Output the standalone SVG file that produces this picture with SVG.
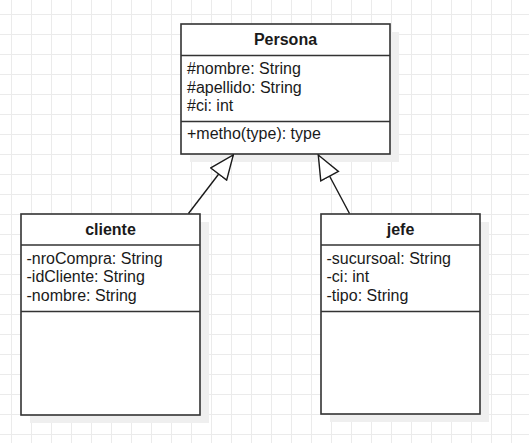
<svg xmlns="http://www.w3.org/2000/svg" width="529" height="443" viewBox="0 0 529 443">
  <style>
    .box { fill: #ffffff; stroke: #333333; stroke-width: 1.6; }
    .shadow { fill: #efefef; stroke: none; }
    .sep { stroke: #333333; stroke-width: 1.6; }
    .title { font-family: "Liberation Sans", Arial, sans-serif; font-size: 16px; font-weight: bold; fill: #1a1a1a; text-anchor: middle; }
    .attr { font-family: "Liberation Sans", Arial, sans-serif; font-size: 16px; fill: #1a1a1a; }
    .edge { stroke: #1a1a1a; stroke-width: 1.4; fill: none; }
  </style>
  <defs>
    <pattern id="grid" patternUnits="userSpaceOnUse" x="11" y="14" width="20" height="20">
      <path d="M0.5 0 V20 M0 0.5 H20" stroke="#ebebeb" stroke-width="1" fill="none"/>
    </pattern>
    <marker id="inherit" markerUnits="userSpaceOnUse" viewBox="0 0 26 22" refX="25" refY="11" markerWidth="26" markerHeight="22" orient="auto">
      <path d="M1,1 L25,11 L1,21 Z" fill="#ffffff" stroke="#1a1a1a" stroke-width="1.4" stroke-linejoin="miter"/>
    </marker>
  </defs>
  <rect width="529" height="443" fill="#ffffff"/>
  <rect width="529" height="443" fill="url(#grid)"/>

  <g id="Persona">
    <rect class="shadow" x="190" y="32" width="209" height="130"/>
    <rect class="box" x="181" y="24" width="209" height="130"/>
    <line class="sep" x1="181" y1="55.5" x2="390" y2="55.5"/>
    <line class="sep" x1="181" y1="121.5" x2="390" y2="121.5"/>
    <text class="title" x="285.5" y="44.5">Persona</text>
    <text class="attr" x="187" y="74.3">#nombre: String</text>
    <text class="attr" x="187" y="92.7">#apellido: String</text>
    <text class="attr" x="187" y="111">#ci: int</text>
    <text class="attr" x="187" y="139">+metho(type): type</text>
  </g>

  <g id="cliente">
    <rect class="shadow" x="30" y="222" width="179" height="201"/>
    <rect class="box" x="21" y="214" width="179" height="201"/>
    <line class="sep" x1="21" y1="245" x2="200" y2="245"/>
    <line class="sep" x1="21" y1="311.5" x2="200" y2="311.5"/>
    <text class="title" x="110.5" y="234.5">cliente</text>
    <text class="attr" x="26.5" y="264">-nroCompra: String</text>
    <text class="attr" x="26.5" y="282.3">-idCliente: String</text>
    <text class="attr" x="26.5" y="300.7">-nombre: String</text>
  </g>

  <g id="jefe">
    <rect class="shadow" x="330" y="222" width="159" height="200"/>
    <rect class="box" x="321" y="214" width="159" height="200"/>
    <line class="sep" x1="321" y1="245" x2="480" y2="245"/>
    <line class="sep" x1="321" y1="311.5" x2="480" y2="311.5"/>
    <text class="title" x="400.5" y="234.5">jefe</text>
    <text class="attr" x="326.5" y="264">-sucursoal: String</text>
    <text class="attr" x="326.5" y="282.3">-ci: int</text>
    <text class="attr" x="326.5" y="300.7">-tipo: String</text>
  </g>

  <g id="connectors">
    <line class="edge" x1="188.5" y1="213.5" x2="233.3" y2="155" marker-end="url(#inherit)"/>
    <line class="edge" x1="349.5" y1="213.5" x2="318.3" y2="155" marker-end="url(#inherit)"/>
  </g>
</svg>
